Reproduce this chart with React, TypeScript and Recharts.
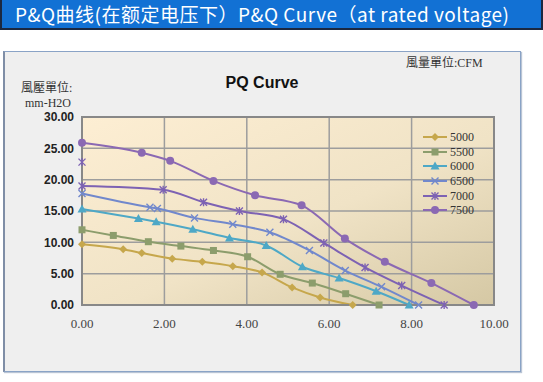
import React from 'react';
import { LineChart, Line, XAxis, YAxis, CartesianGrid, Legend, ReferenceArea } from 'recharts';

// Airflow (CFM) / pressure (mm-H2O) readings per fan speed
const Q_5000 = [0, 1.0, 1.45, 2.19, 2.92, 3.66, 4.37, 5.1, 5.78, 6.57];
const P_5000 = [9.7, 8.9, 8.3, 7.4, 6.9, 6.2, 5.2, 2.8, 1.2, 0];
const Q_5500 = [0, 0.76, 1.61, 2.4, 3.19, 4.02, 4.81, 5.59, 6.4, 7.21];
const P_5500 = [12.0, 11.1, 10.1, 9.4, 8.7, 7.7, 4.9, 3.5, 1.8, 0];
const Q_6000 = [0, 1.37, 1.8, 2.69, 3.58, 4.47, 5.35, 6.24, 7.14, 7.94];
const P_6000 = [15.3, 13.8, 13.3, 12.1, 10.7, 9.5, 6.1, 4.3, 2.2, 0];
const Q_6500 = [0, 1.65, 1.83, 2.73, 3.66, 4.56, 5.52, 6.39, 7.27, 8.17];
const P_6500 = [17.8, 15.6, 15.4, 13.9, 12.9, 11.6, 8.7, 5.5, 2.9, 0];
const Q_7000 = [0, 0, 0, 1.97, 2.95, 3.82, 4.89, 5.87, 6.87, 7.76, 8.79];
const P_7000 = [22.8, null, 19.0, 18.4, 16.4, 15.0, 13.7, 9.9, 6.0, 3.1, 0];
const Q_7500 = [0, 1.45, 2.14, 3.19, 4.2, 5.33, 6.38, 7.35, 8.48, 9.51];
const P_7500 = [25.9, 24.3, 23.0, 19.8, 17.5, 15.9, 10.6, 6.9, 3.5, 0];

const SPEEDS = ['5000', '5500', '6000', '6500', '7000', '7500'];
const X_TICKS = [0, 2, 4, 6, 8, 10];
const Y_TICKS = [0, 5, 10, 15, 20, 25, 30];

const COLORS: Record<string, string> = {
  '5000': '#c6a74c',
  '5500': '#8c9d6c',
  '6000': '#4ea8c6',
  '6500': '#7188cc',
  '7000': '#7d62b3',
  '7500': '#8b69b3',
};
const SHAPES: Record<string, string> = {
  '5000': 'diamond',
  '5500': 'square',
  '6000': 'triangle',
  '6500': 'x',
  '7000': 'star',
  '7500': 'circle',
};

const build = (q: number[], p: (number | null)[]) => q.map((v, i) => ({ q: v, p: p[i] }));
const SERIES: Record<string, { q: number; p: number | null }[]> = {
  '5000': build(Q_5000, P_5000),
  '5500': build(Q_5500, P_5500),
  '6000': build(Q_6000, P_6000),
  '6500': build(Q_6500, P_6500),
  '7000': build(Q_7000, P_7000),
  '7500': build(Q_7500, P_7500),
};

function Marker({ shape, cx, cy, color }: { shape: string; cx: number; cy: number; color: string }) {
  switch (shape) {
    case 'diamond':
      return <path d={`M${cx},${cy - 4} L${cx + 4},${cy} L${cx},${cy + 4} L${cx - 4},${cy} Z`} fill={color} />;
    case 'square':
      return <rect x={cx - 3.5} y={cy - 3.5} width={7} height={7} fill={color} />;
    case 'triangle':
      return <path d={`M${cx},${cy - 4.5} L${cx + 4.5},${cy + 3.5} L${cx - 4.5},${cy + 3.5} Z`} fill={color} />;
    case 'x':
      return (
        <path d={`M${cx - 3.5},${cy - 3.5} L${cx + 3.5},${cy + 3.5} M${cx + 3.5},${cy - 3.5} L${cx - 3.5},${cy + 3.5}`} stroke={color} strokeWidth={1.4} />
      );
    case 'star':
      return (
        <path
          d={`M${cx - 3.5},${cy - 3.5} L${cx + 3.5},${cy + 3.5} M${cx + 3.5},${cy - 3.5} L${cx - 3.5},${cy + 3.5} M${cx},${cy - 4} L${cx},${cy + 4}`}
          stroke={color}
          strokeWidth={1.4}
        />
      );
    default:
      return <circle cx={cx} cy={cy} r={4} fill={color} />;
  }
}

const makeDot = (name: string) => (props: any) => {
  const { cx, cy, index } = props;
  if (cx == null || cy == null || props.value == null || (Array.isArray(props.value) && props.value[1] == null))
    return <g key={`d-${name}-${index}`} />;
  return (
    <g key={`d-${name}-${index}`}>
      <Marker shape={SHAPES[name]} cx={cx} cy={cy} color={COLORS[name]} />
    </g>
  );
};

const renderLegend = (props: any) => {
  const payload = props.payload || [];
  return (
    <div style={{ fontFamily: '"Liberation Serif", serif', fontSize: 12, color: '#333' }}>
      {payload.map((e: any) => {
        const name = String(e.value);
        return (
          <div key={name} style={{ display: 'flex', alignItems: 'center', height: 14.6 }}>
            <svg width={26} height={12} style={{ display: 'block' }}>
              <line x1={1} y1={6} x2={25} y2={6} stroke={COLORS[name]} strokeWidth={2} />
              <Marker shape={SHAPES[name]} cx={13} cy={6} color={COLORS[name]} />
            </svg>
            <span style={{ marginLeft: 2, lineHeight: '14px' }}>{name}</span>
          </div>
        );
      })}
    </div>
  );
};

export default function App() {
  const serifCjk = '"Liberation Serif", "Noto Sans CJK TC", serif';
  return (
    <div style={{ position: 'fixed', left: 0, top: 0, width: 543, height: 382, background: '#ffffff', overflow: 'hidden' }}>
      {/* banner */}
      <div
        style={{
          position: 'absolute',
          left: 0,
          top: 0,
          width: 526,
          height: 28,
          background: '#1271d4',
          borderLeft: '2px solid #1b2840',
          borderRight: '2px solid #1b2840',
          borderBottom: '2px solid #1b2840',
          color: '#ffffff',
          fontFamily: '"Noto Sans CJK SC", "Noto Sans", sans-serif',
          fontSize: 19,
          letterSpacing: 0.5,
          lineHeight: '27px',
          paddingLeft: 13,
          boxSizing: 'content-box',
          whiteSpace: 'nowrap',
        }}
      >
        P&amp;Q曲线(在额定电压下）P&amp;Q Curve（at rated voltage)
      </div>
      {/* chart frame */}
      <div
        style={{
          position: 'absolute',
          left: 3,
          top: 51,
          width: 515,
          height: 319,
          background: '#efefef',
          border: '1px solid #8aa3c6',
          borderLeft: '2px solid #7f8ea6',
          boxShadow: '1px 1px 1px #b9c4d4',
        }}
      />
      <div style={{ position: 'absolute', left: 406, top: 56, fontFamily: serifCjk, fontSize: 12, lineHeight: '14px', color: '#333', whiteSpace: 'nowrap' }}>
        風量單位:CFM
      </div>
      <div style={{ position: 'absolute', left: 21, top: 81, fontFamily: serifCjk, fontSize: 12, lineHeight: '14px', color: '#333', whiteSpace: 'nowrap' }}>
        風壓單位:
      </div>
      <div style={{ position: 'absolute', left: 25, top: 97, fontFamily: serifCjk, fontSize: 12, lineHeight: '13px', color: '#333', whiteSpace: 'nowrap' }}>
        mm-H2O
      </div>
      <div
        style={{
          position: 'absolute',
          left: 222,
          top: 74,
          width: 80,
          textAlign: 'center',
          fontFamily: '"Liberation Sans", Arial, sans-serif',
          fontWeight: 'bold',
          fontSize: 16,
          color: '#111',
        }}
      >
        PQ Curve
      </div>
      <div style={{ position: 'absolute', left: 0, top: 0 }}>
        <LineChart width={543} height={382} margin={{ left: 22, right: 49, top: 117, bottom: 47 }}>
          <defs>
            <linearGradient id="plotBg" x1="0" y1="0" x2="1" y2="1">
              <stop offset="0%" stopColor="#fdeed3" />
              <stop offset="55%" stopColor="#f0e3c6" />
              <stop offset="100%" stopColor="#d5c8a4" />
            </linearGradient>
          </defs>
          <CartesianGrid fill="url(#plotBg)" stroke="#9d9d9d" strokeWidth={1.5} fillOpacity={1} />
          <XAxis
            type="number"
            dataKey="q"
            domain={[0, 10]}
            ticks={X_TICKS}
            tickFormatter={(v: number) => v.toFixed(2)}
            allowDuplicatedCategory={false}
            tickSize={0}
            tickMargin={14}
            axisLine={{ stroke: '#888', strokeWidth: 2 }}
            tick={{ fontFamily: '"Liberation Serif", serif', fontSize: 13, fill: '#444' }}
          />
          <YAxis
            type="number"
            dataKey="p"
            domain={[0, 30]}
            ticks={Y_TICKS}
            tickFormatter={(v: number) => v.toFixed(2)}
            tickSize={0}
            tickMargin={8}
            axisLine={{ stroke: '#888', strokeWidth: 2 }}
            tick={{ fontFamily: '"Liberation Sans", Arial, sans-serif', fontSize: 12, fontWeight: 'bold', fill: '#222' }}
          />
          <ReferenceArea x1={0} x2={10} y1={0} y2={30} fill="none" stroke="#888" strokeWidth={2} ifOverflow="visible" />
          {SPEEDS.map((name) => (
            <Line
              key={name}
              name={name}
              data={SERIES[name]}
              dataKey="p"
              type="monotone"
              stroke={COLORS[name]}
              strokeWidth={2}
              dot={makeDot(name)}
              activeDot={false}
              connectNulls={false}
              isAnimationActive={false}
            />
          ))}
          <Legend
            layout="vertical"
            align="center"
            verticalAlign="middle"
            content={renderLegend}
            wrapperStyle={{ position: 'absolute', left: 422, top: 130, width: 80 }}
          />
        </LineChart>
      </div>
    </div>
  );
}
